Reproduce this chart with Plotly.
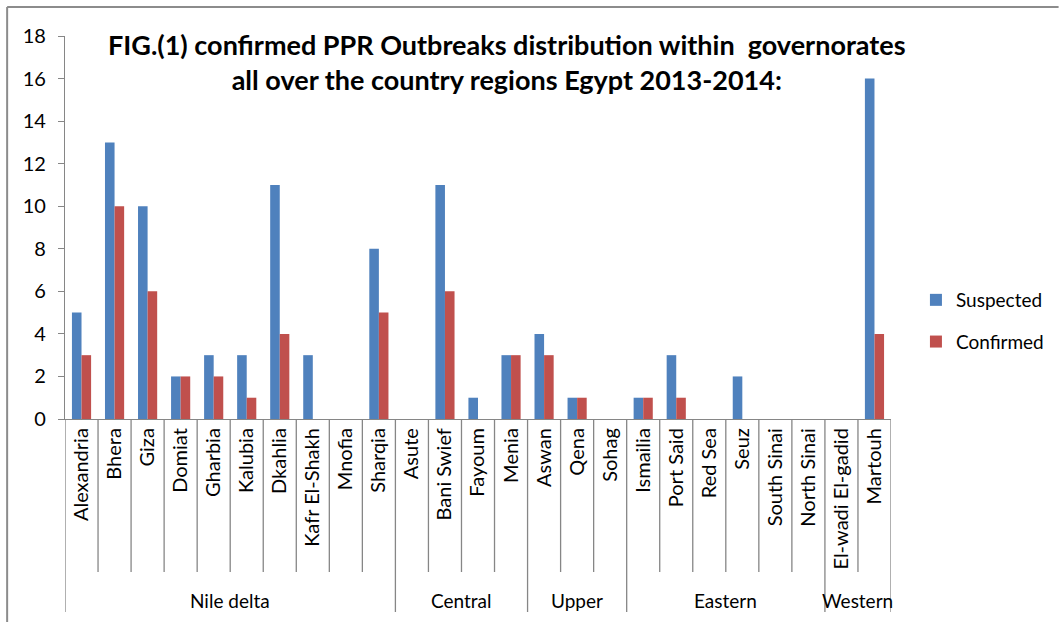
import plotly.graph_objects as go

governorates = ["Alexandria", "Bhera", "Giza", "Domiat", "Gharbia", "Kalubia", "Dkahlia",
                "Kafr El-Shakh", "Mnofia", "Sharqia", "Asute", "Bani Swief", "Fayoum", "Menia",
                "Aswan", "Qena", "Sohag", "Ismailia", "Port Said", "Red Sea", "Seuz",
                "South Sinai", "North Sinai", "El-wadi El-gadid", "Martouh"]
regions = ["Nile delta", "Central", "Upper", "Eastern", "Western"]
region_sizes = [10, 4, 3, 6, 2]
suspected = [5, 13, 10, 2, 3, 3, 11, 3, 0, 8, 0, 11, 1, 3, 4, 1, 0, 1, 3, 0, 2, 0, 0, 0, 16]
confirmed = [3, 10, 6, 2, 2, 1, 4, 0, 0, 5, 0, 6, 0, 3, 3, 1, 0, 1, 1, 0, 0, 0, 0, 0, 4]

FONT = "Lato"
W, H = 1061, 622
L, R, T, B = 65, 168, 36, 203
pw, ph = W - L - R, H - T - B
AX = "#868686"

def px_x(p):
    return (p - L) / pw

def px_y(p):
    return (H - B - p) / ph

fig = go.Figure()
fig.add_trace(go.Bar(x=governorates, y=suspected, name="Suspected", legendgroup="a",
                     marker=dict(color="#4F81BD", line=dict(width=0))))
fig.add_trace(go.Bar(x=governorates, y=confirmed, name="Confirmed", legendgroup="b",
                     marker=dict(color="#C0504D", line=dict(width=0))))

shapes = []
n = len(governorates)
# dividers between governorates
for i in range(n + 1):
    shapes.append(dict(type="line", xref="x", yref="paper", x0=i - 0.5, x1=i - 0.5,
                       y0=0, y1=px_y(572), line=dict(color=AX, width=1.3)))
# region dividers and labels
annotations = []
start = 0
bounds = [0]
for name, size in zip(regions, region_sizes):
    end = start + size
    bounds.append(end)
    annotations.append(dict(x=(start + end - 1) / 2, xref="x", y=px_y(600), yref="paper",
                            text=name, showarrow=False, xanchor="center", yanchor="middle",
                            font=dict(family=FONT, size=19, color="#000")))
    start = end
for b in bounds:
    shapes.append(dict(type="line", xref="x", yref="paper", x0=b - 0.5, x1=b - 0.5,
                       y0=px_y(572), y1=px_y(612), line=dict(color=AX, width=1.3)))

# outer chart border (top and left)
shapes.append(dict(type="line", xref="paper", yref="paper", x0=px_x(7), x1=px_x(1061),
                   y0=px_y(7), y1=px_y(7), line=dict(color="#8C8C8C", width=2)))
shapes.append(dict(type="line", xref="paper", yref="paper", x0=px_x(7), x1=px_x(7),
                   y0=px_y(7), y1=px_y(625), line=dict(color="#8C8C8C", width=2)))

annotations.append(dict(x=px_x(508), y=px_y(62), xref="paper", yref="paper",
                        text="<b>FIG.(1) confirmed PPR Outbreaks distribution within  governorates<br>all over the country regions Egypt 2013-2014:</b>",
                        showarrow=False, xanchor="center", yanchor="middle", align="center",
                        font=dict(family=FONT, size=27, color="#000")))

fig.update_layout(
    width=W, height=H,
    margin=dict(l=L, r=R, t=T, b=B, pad=0),
    paper_bgcolor="white", plot_bgcolor="white",
    barmode="group", bargap=0.42, bargroupgap=0,
    font=dict(family=FONT, size=19, color="#000"),
    showlegend=True,
    legend=dict(x=px_x(918), y=px_y(281), xanchor="left", yanchor="top",
                font=dict(family=FONT, size=19, color="#000"),
                tracegroupgap=14, bgcolor="rgba(0,0,0,0)", itemwidth=30),
    shapes=shapes,
    annotations=annotations,
    xaxis=dict(type="category", tickangle=-90, showline=True, linecolor=AX, linewidth=1.3,
               ticks="", showgrid=False, tickfont=dict(family=FONT, size=20, color="#000"),
               range=[-0.5, n - 0.5]),
    yaxis=dict(range=[0, 18], dtick=2, showline=True, linecolor=AX, linewidth=1.3,
               ticks="outside", ticklen=6, tickcolor=AX, tickwidth=1.3, showgrid=False,
               zeroline=False, ticklabelstandoff=8,
               tickfont=dict(family=FONT, size=20, color="#000")),
)

fig.write_html("out.html")
